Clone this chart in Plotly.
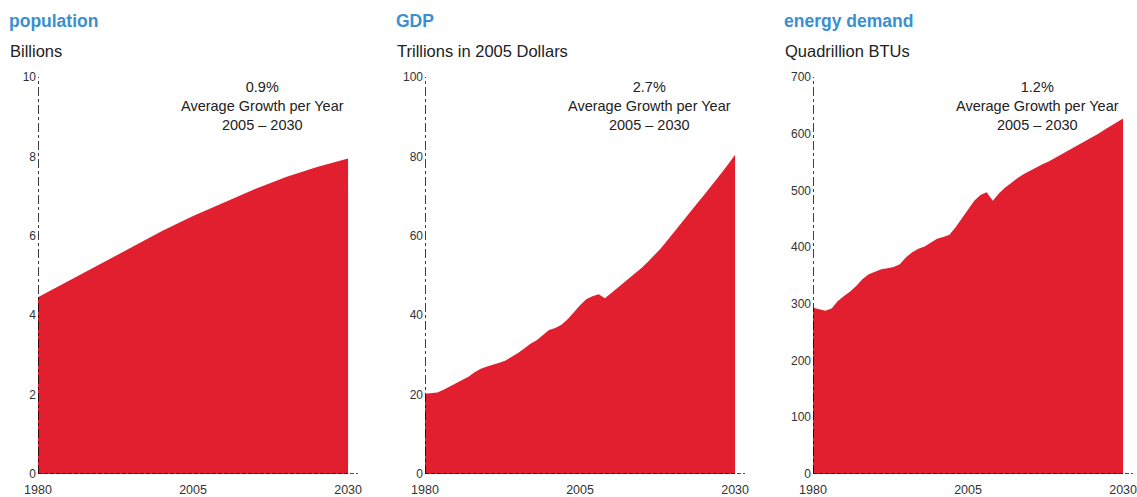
import plotly.graph_objects as go

# ---- data -----------------------------------------------------------------
pop_years = [1980, 1985, 1990, 1995, 2000, 2005, 2010, 2015, 2020, 2025, 2030]
pop_values = [4.45, 4.87, 5.30, 5.72, 6.12, 6.50, 6.85, 7.18, 7.48, 7.73, 7.95]

gdp_years = list(range(1980, 2031))
gdp_values = [20.2, 20.4, 20.5, 21.2, 22.0, 22.8, 23.6, 24.5, 25.6, 26.5,
              27.1, 27.5, 28.0, 28.6, 29.5, 30.5, 31.6, 32.8, 33.7, 35.0,
              36.3, 36.8, 37.6, 39.0, 40.8, 42.5, 44.0, 44.8, 45.3, 44.3,
              45.5, 46.8, 48.0, 49.3, 50.6, 52.0, 53.5, 55.1, 56.8, 58.7,
              60.7, 62.7, 64.6, 66.5, 68.4, 70.3, 72.2, 74.2, 76.2, 78.3,
              80.4]

energy_years = list(range(1980, 2031))
energy_values = [293, 290, 288, 292, 305, 314, 322, 332, 344, 352,
                 357, 361, 363, 365, 370, 382, 391, 397, 401, 408,
                 415, 418, 422, 435, 451, 468, 482, 492, 497, 482,
                 495, 505, 514, 522, 529, 535, 540, 546, 551, 557,
                 563, 569, 575, 581, 587, 593, 600, 607, 613, 620,
                 627]

titles = ["population", "GDP", "energy demand"]
units = ["Billions", "Trillions in 2005 Dollars", "Quadrillion BTUs"]
growth_rates = ["0.9%", "2.7%", "1.2%"]
growth_period = "2005 \u2013 2030"
y_max = [10, 100, 700]
y_step = [2, 20, 100]
x_ticks = [1980, 2005, 2030]

# ---- styling --------------------------------------------------------------
W, H = 1137, 497
RED = "#E21F2E"
BLUE = "#3A8FD0"
TEXT = "#222222"
TICK = "#333333"
BODY_FONT = "Liberation Sans, Arial, sans-serif"

# panel placement in pixels: left edge of the axis, right end of the baseline
panel_px = [(38, 358), (425, 745), (813, 1133)]
plot_top_px, plot_bottom_px = 77, 474
x_range = [1980, 2031.6]


def px_x(p):
    return p / W


def px_y(p):
    return 1 - p / H


series = [(pop_years, pop_values), (gdp_years, gdp_values),
          (energy_years, energy_values)]

fig = go.Figure()
annotations = []
shapes = []

for i, (xs, ys) in enumerate(series):
    n = "" if i == 0 else str(i + 1)
    xa, ya = "x" + n, "y" + n
    fig.add_trace(go.Scatter(
        x=xs, y=ys, mode="lines", fill="tozeroy",
        line=dict(width=0, color=RED), fillcolor=RED,
        xaxis=xa, yaxis=ya, hoverinfo="x+y", showlegend=False,
    ))
    left, right = panel_px[i]
    fig.update_layout({
        "xaxis" + n: dict(
            domain=[px_x(left), px_x(right)], range=x_range,
            tickvals=x_ticks, ticktext=[str(t) for t in x_ticks],
            showgrid=False, zeroline=False, showline=False, ticks="",
            ticklabelstandoff=6, automargin=False,
            ticklabeloverflow="allow",
            tickfont=dict(family=BODY_FONT, size=12.5, color=TICK),
            anchor=ya, fixedrange=True,
        ),
        "yaxis" + n: dict(
            domain=[px_y(plot_bottom_px), px_y(plot_top_px)],
            range=[0, y_max[i]],
            tickvals=list(range(0, y_max[i] + 1, y_step[i])),
            showgrid=False, zeroline=False, showline=False, ticks="",
            ticklabelstandoff=1, automargin=False,
            ticklabeloverflow="allow",
            tickfont=dict(family=BODY_FONT, size=12, color=TICK),
            anchor=xa, fixedrange=True,
        ),
    })
    # dash-dot vertical axis and dotted baseline
    shapes.append(dict(type="line", xref=xa, yref=ya, x0=1980, x1=1980,
                       y0=0, y1=y_max[i],
                       line=dict(color="#000000", width=1.5, dash="dashdot")))
    shapes.append(dict(type="line", xref=xa, yref=ya, x0=1980, x1=x_range[1],
                       y0=0, y1=0,
                       line=dict(color="#111111", width=1.5, dash="4px,2px")))
    # panel heading and unit line
    annotations.append(dict(
        text="<b>" + titles[i] + "</b>", xref="paper", yref="paper",
        x=px_x(left - 31), y=px_y(21), xanchor="left", yanchor="middle",
        showarrow=False, font=dict(family=BODY_FONT, size=17.5, color=BLUE),
    ))
    annotations.append(dict(
        text=units[i], xref="paper", yref="paper",
        x=px_x(left - 30), y=px_y(51), xanchor="left", yanchor="middle",
        showarrow=False, font=dict(family=BODY_FONT, size=16.5, color=TEXT),
    ))
    # growth note
    annotations.append(dict(
        text=growth_rates[i] + "<br>Average Growth per Year<br>" + growth_period,
        xref=xa, yref="paper", x=2016.2, y=px_y(106),
        xanchor="center", yanchor="middle", align="center",
        showarrow=False, font=dict(family=BODY_FONT, size=14.5, color=TEXT),
    ))

fig.update_layout(
    width=W, height=H,
    margin=dict(l=0, r=0, t=0, b=0, pad=0),
    paper_bgcolor="white", plot_bgcolor="white",
    annotations=annotations, shapes=shapes,
)

fig.write_html("out.html")
